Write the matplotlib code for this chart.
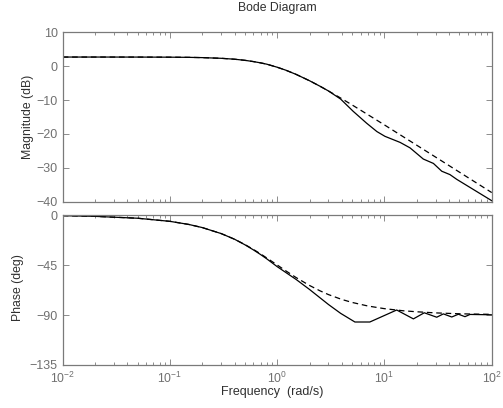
import matplotlib
matplotlib.use("Agg")
import matplotlib.pyplot as plt
from matplotlib.ticker import LogLocator, NullFormatter, FixedLocator

plt.rcParams['font.family'] = ['Liberation Sans', 'DejaVu Sans']

# Dashed (reference model) curve
w_ref = [0.01, 0.02, 0.05, 0.1, 0.15, 0.2, 0.3, 0.4, 0.5, 0.6, 0.7, 0.8, 1.0, 1.2,
         1.5, 2.0, 2.5, 3.0, 4.0, 5.0, 7.0, 10.0, 15.0, 20.0, 30.0, 50.0, 70.0, 100.0]
mag_ref = [2.70, 2.70, 2.69, 2.66, 2.61, 2.53, 2.33, 2.06, 1.73, 1.36, 0.98, 0.59, -0.31, -1.17,
           -2.42, -4.29, -5.90, -7.30, -9.60, -11.45, -14.30, -17.34, -20.85, -23.33, -26.84,
           -31.28, -34.20, -37.30]
ph_ref = [-0.6, -1.2, -2.9, -5.7, -8.5, -11.3, -16.7, -21.8, -26.6, -31.0, -35.0, -38.7, -45.0, -50.2,
          -56.3, -63.4, -68.2, -71.6, -76.0, -78.7, -81.9, -84.3, -86.2, -87.1, -88.1, -88.9,
          -89.2, -89.4]

# Solid (actual system) magnitude
w_mag = [0.01, 0.02, 0.05, 0.1, 0.15, 0.2, 0.3, 0.4, 0.5, 0.6, 0.7, 0.8, 1.0, 1.2, 1.5, 2.0,
         2.5, 3.0, 3.9, 5.1, 6.8, 8.5, 10.1, 14.0, 17.3, 23.0, 28.6, 34.2, 40.8, 47.2, 100.0]
mag_act = [2.70, 2.70, 2.69, 2.66, 2.61, 2.53, 2.33, 2.06, 1.73, 1.36, 0.98, 0.59, -0.31, -1.17,
           -2.42, -4.29, -5.90, -7.30, -9.7, -13.3, -16.8, -19.3, -20.7, -22.5, -24.1, -27.4,
           -28.7, -31.0, -32.0, -33.4, -39.7]

# Solid (actual system) phase
w_ph = [0.01, 0.02, 0.05, 0.1, 0.15, 0.2, 0.3, 0.4, 0.5, 0.6, 0.7, 0.8, 1.0, 1.5, 2.0, 3.0,
        3.9, 5.3, 7.3, 13.0, 18.6, 23.5, 30.7, 35.4, 42.4, 48.9, 56.3, 62.7, 100.0]
ph_act = [-0.6, -1.2, -2.9, -5.7, -8.5, -11.3, -16.7, -21.8, -26.8, -31.4, -35.6, -39.5, -46.5,
          -58.0, -67.0, -80.5, -88.5, -96.3, -96.3, -85.5, -93.5, -88.0, -92.0, -89.0, -91.8,
          -89.3, -91.5, -89.5, -89.8]

xticks = [1e-2, 1e-1, 1e0, 1e1, 1e2]
mag_ticks = [-40, -30, -20, -10, 0, 10]
ph_ticks = [-135, -90, -45, 0]

grey = '#7a7a7a'
label_grey = '#707070'

fig = plt.figure(figsize=(5.03, 4.08), dpi=100)
ax1 = fig.add_axes([0.1247, 0.5056, 0.8529, 0.4152])
ax2 = fig.add_axes([0.1247, 0.1054, 0.8529, 0.3676])

ax1.plot(w_ref, mag_ref, color='black', lw=0.9, linestyle=(0, (4.5, 3.0)))
ax1.plot(w_mag, mag_act, color='black', lw=0.9)
ax2.plot(w_ref, ph_ref, color='black', lw=0.9, linestyle=(0, (4.5, 3.0)))
ax2.plot(w_ph, ph_act, color='black', lw=0.9)

for ax in (ax1, ax2):
    ax.set_xscale('log')
    ax.set_xlim(1e-2, 1e2)
    ax.xaxis.set_major_locator(FixedLocator(xticks))
    ax.xaxis.set_minor_locator(LogLocator(base=10, subs=range(2, 10), numticks=20))
    ax.xaxis.set_minor_formatter(NullFormatter())
    ax.tick_params(which='both', direction='in', top=True, right=True,
                   colors=grey, labelcolor=label_grey, labelsize=9)
    ax.tick_params(which='major', length=4, width=0.6)
    ax.tick_params(which='minor', length=2.5, width=0.6)
    for sp in ax.spines.values():
        sp.set_color(grey)
        sp.set_linewidth(0.9)

ax1.set_ylim(-40, 10)
ax1.set_yticks(mag_ticks)
ax1.set_yticklabels(['\u221240', '\u221230', '\u221220', '\u221210', '0', '10'])
ax1.tick_params(axis='x', labelbottom=False)

ax2.set_ylim(-135, 0)
ax2.set_yticks(ph_ticks)
ax2.set_yticklabels(['\u2212135', '\u221290', '\u221245', '0'])
ax2.set_xticklabels([r'$\mathregular{10^{-2}}$', r'$\mathregular{10^{-1}}$', r'$\mathregular{10^{0}}$',
                     r'$\mathregular{10^{1}}$', r'$\mathregular{10^{2}}$'])
ax2.tick_params(axis='x', labelsize=8.8, pad=4.5)

fig.text(0.5507, 1 - 8 / 408, 'Bode Diagram', ha='center', va='center', fontsize=8.8, color='#303030')
fig.text(28 / 503, 1 - 117 / 408, 'Magnitude (dB)', ha='center', va='center', rotation=90,
         fontsize=8.8, color='#303030')
fig.text(18 / 503, 1 - 288 / 408, 'Phase (deg)', ha='center', va='center', rotation=90,
         fontsize=8.8, color='#303030')
fig.text(272 / 503, 1 - 392 / 408, 'Frequency  (rad/s)', ha='center', va='center',
         fontsize=9, color='#303030')

fig.savefig('out.png', dpi=100)
